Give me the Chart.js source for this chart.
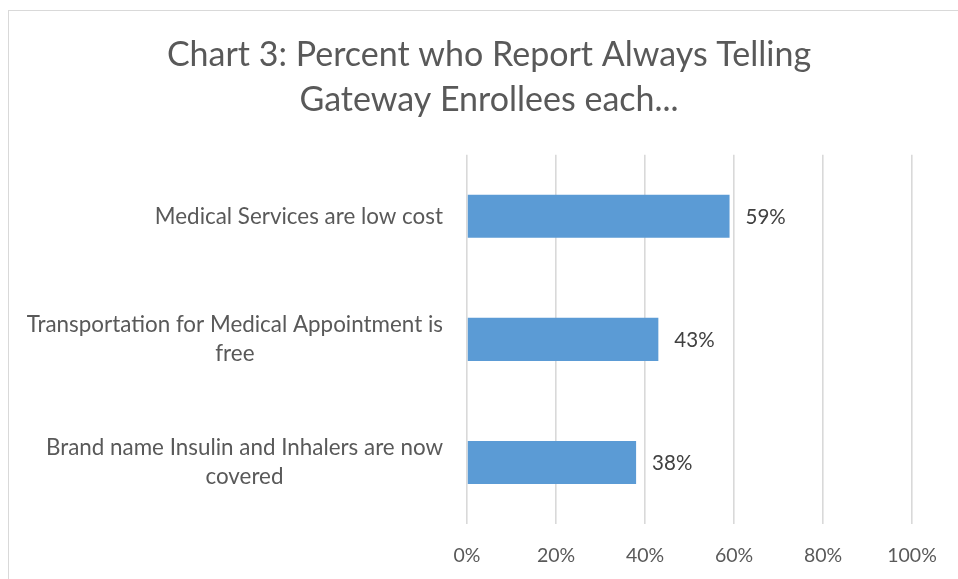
<!DOCTYPE html>
<html>
<head>
<meta charset="utf-8">
<script src="https://cdn.jsdelivr.net/npm/chart.js@4/dist/chart.umd.min.js"></script>
<style>
  html, body { margin: 0; padding: 0; background: #fff; overflow: hidden; }
  #frame {
    position: absolute; left: 8px; top: 10px;
    width: 2000px; height: 2000px;
    border: 1px solid #d9d9d9;
  }
  #wrap { position: absolute; left: 0; top: 0; width: 958px; height: 579px; }
</style>
</head>
<body>
<div id="frame"></div>
<div id="wrap"><canvas id="chart" width="958" height="579"></canvas></div>
<script>
const FONT = 'Lato, "Open Sans", sans-serif';

const titleLines = ['Chart 3: Percent who Report Always Telling', 'Gateway Enrollees each...'];

// each category label is split into its wrapped lines
const categories = [
    ['Medical Services are low cost'],
    ['Transportation for Medical Appointment is', 'free'],
    ['Brand name Insulin and Inhalers are now', 'covered']
];
const percents = [59, 43, 38];
const xTicks = [0, 20, 40, 60, 80, 100];

const PAD_LEFT = 66;
const PLOT_LEFT = 467;
const AXIS_HEIGHT = 55;

// category labels: lines centred on each other, block right-aligned to the axis
const categoryLabels = {
    id: 'categoryLabels',
    afterDraw(chart) {
        const ctx = chart.ctx;
        const y = chart.scales.y;
        const lineH = 29;
        ctx.save();
        ctx.font = '22.4px ' + FONT;
        ctx.fillStyle = '#595959';
        ctx.textAlign = 'center';
        ctx.textBaseline = 'middle';
        categories.forEach((lines, i) => {
            const widest = Math.max(...lines.map(l => ctx.measureText(l).width));
            const cx = chart.chartArea.left - 24 - widest / 2;
            const cy = y.getPixelForValue(i);
            const top = cy - (lines.length - 1) * lineH / 2;
            lines.forEach((l, j) => ctx.fillText(l, cx, top + j * lineH));
        });
        ctx.restore();
    }
};

// value labels to the right of each bar
const valueLabels = {
    id: 'valueLabels',
    afterDatasetsDraw(chart) {
        const ctx = chart.ctx;
        const meta = chart.getDatasetMeta(0);
        ctx.save();
        ctx.font = '20.5px ' + FONT;
        ctx.fillStyle = '#404040';
        ctx.textAlign = 'left';
        ctx.textBaseline = 'middle';
        meta.data.forEach((bar, i) => {
            ctx.fillText(percents[i] + '%', bar.x + 16, bar.y + 1);
        });
        ctx.restore();
    }
};

new Chart(document.getElementById('chart'), {
    type: 'bar',
    data: {
        labels: categories.map(c => c.join(' ')),
        datasets: [{
            data: percents,
            backgroundColor: '#5b9bd5',
            barPercentage: 0.35,
            categoryPercentage: 1
        }]
    },
    options: {
        indexAxis: 'y',
        responsive: false,
        animation: false,
        layout: { padding: { top: 0, right: 46, bottom: 0, left: PAD_LEFT } },
        plugins: {
            legend: { display: false },
            tooltip: { enabled: false },
            title: {
                display: true,
                text: titleLines,
                color: '#595959',
                font: { family: FONT, size: 34, weight: 'normal', lineHeight: 1.32 },
                padding: { top: 33, bottom: 32 }
            }
        },
        scales: {
            x: {
                min: 0,
                max: 100,
                afterBuildTicks(scale) {
                    scale.ticks = xTicks.map(v => ({ value: v }));
                },
                afterFit(scale) { scale.height = AXIS_HEIGHT; },
                grid: { color: '#d9d9d9', lineWidth: 1.6, drawTicks: false },
                border: { display: false },
                ticks: {
                    color: '#595959',
                    font: { family: FONT, size: 19.5 },
                    padding: 20,
                    callback: v => v + '%'
                }
            },
            y: {
                grid: { display: false },
                border: { display: false },
                ticks: { display: false },
                afterFit(scale) { scale.width = PLOT_LEFT - PAD_LEFT; }
            }
        }
    },
    plugins: [categoryLabels, valueLabels]
});
</script>
</body>
</html>
